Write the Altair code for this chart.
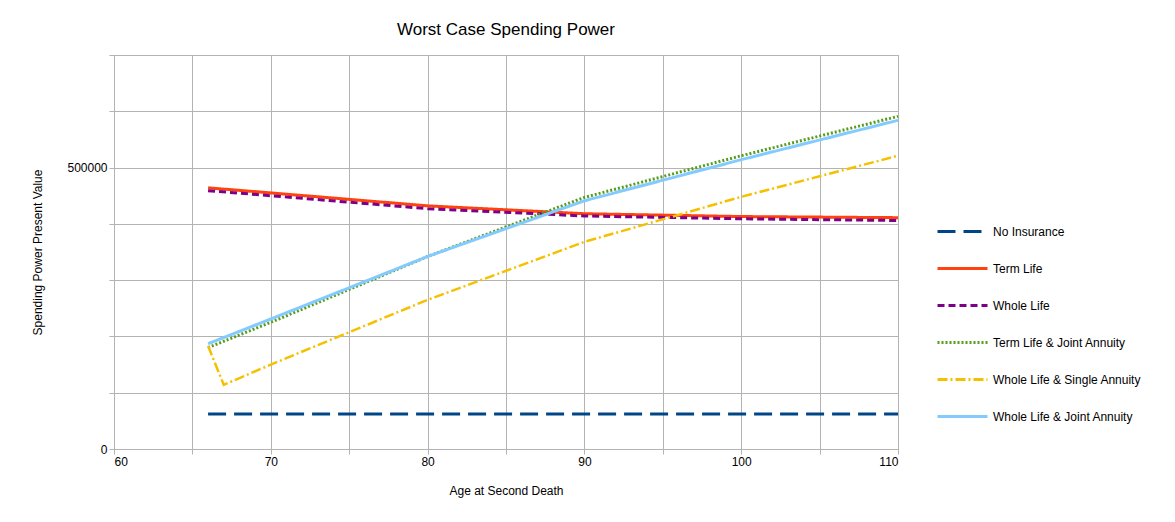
import altair as alt
import pandas as pd

series = ["No Insurance", "Term Life", "Whole Life", "Term Life & Joint Annuity",
          "Whole Life & Single Annuity", "Whole Life & Joint Annuity"]
colors = ["#004586", "#ff420e", "#7e0089", "#579d1c", "#f5c000", "#83caff"]
dashes = [[18, 8], [1, 0], [7, 4], [2, 2], [10, 3, 2, 3], [1, 0]]
widths = [3, 3, 3, 3, 2.5, 3]

ages = [66, 70, 80, 90, 100, 110]
no_ins = [62000, 62000, 62000, 62000, 62000, 62000]
term = [464000, 455000, 432000, 418000, 413000, 411000]
whole = [459000, 450000, 427000, 414000, 409000, 406000]
term_joint = [180000, 225000, 342000, 447000, 521000, 591000]
whole_joint = [187000, 231000, 342000, 441000, 514000, 584000]
ws_ages = [66, 67, 70, 80, 90, 100, 110]
whole_single = [183000, 114000, 150000, 265000, 368000, 448000, 521000]

rows = []
for name, vals in zip(series, [no_ins, term, whole, term_joint, None, whole_joint]):
    if vals is None:
        for a, v in zip(ws_ages, whole_single):
            rows.append({"age": a, "value": v, "series": name})
    else:
        for a, v in zip(ages, vals):
            rows.append({"age": a, "value": v, "series": name})
df = pd.DataFrame(rows)

lines = []
for i, name in enumerate(series):
    lines.append(alt.Chart(df[df.series == name]).mark_line(
        strokeWidth=widths[i], strokeCap="butt").encode(
        x=alt.X("age:Q", scale=alt.Scale(domain=[60, 110], nice=False),
                axis=alt.Axis(values=list(range(60, 111, 5)), labelExpr="datum.value % 10 == 0 ? datum.label : ''",
                              title="Age at Second Death", titlePadding=18)),
        y=alt.Y("value:Q", scale=alt.Scale(domain=[0, 700000], nice=False),
                axis=alt.Axis(values=list(range(0, 700001, 100000)), format="d",
                              labelExpr="datum.value == 0 || datum.value == 500000 ? datum.label : ''",
                              title="Spending Power Present Value", titlePadding=22)),
        color=alt.Color("series:N", scale=alt.Scale(domain=series, range=colors),
                        legend=alt.Legend(title=None, orient="none", legendX=822, legendY=150,
                                          symbolType="stroke", symbolSize=2500, symbolStrokeWidth=3,
                                          labelFontSize=12, labelColor="#000", rowPadding=4,
                                          labelFont="Liberation Sans")),
        strokeDash=alt.StrokeDash("series:N", scale=alt.Scale(domain=series, range=dashes), legend=None),
        order="age:Q",
    ))

chart = alt.layer(*lines).properties(
    width=784, height=394,
    title=alt.TitleParams("Worst Case Spending Power", fontSize=17, fontWeight="normal",
                          font="Liberation Sans", offset=16),
    autosize=alt.AutoSizeParams(type="none"),
    padding={"left": 106, "top": 47, "right": 260, "bottom": 60},
).configure_axis(
    gridColor="#b3b3b3", domainColor="#b3b3b3", tickColor="#b3b3b3",
    labelFont="Liberation Sans", titleFont="Liberation Sans", labelFontSize=12,
    titleFontSize=12, titleFontWeight="normal", labelColor="#000", titleColor="#000",
).configure_view(stroke="#b3b3b3")

chart.save("out.html", embed_options={"renderer": "svg", "actions": False})
